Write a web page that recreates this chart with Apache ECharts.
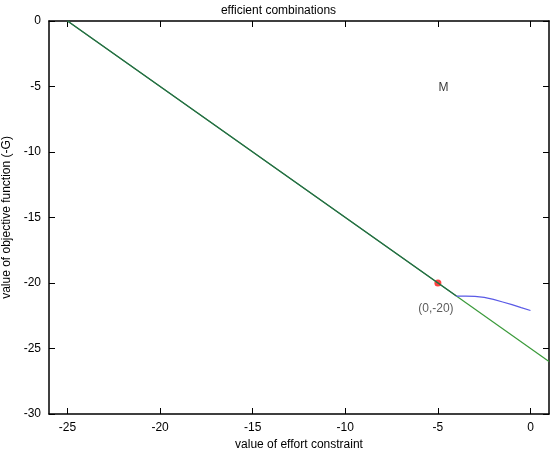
<!DOCTYPE html>
<html>
<head>
<meta charset="utf-8">
<script src="https://cdn.jsdelivr.net/npm/echarts@6/dist/echarts.min.js"></script>
<style>
  html, body { margin: 0; padding: 0; background: #fff; }
  #main { width: 557px; height: 450px; }
</style>
</head>
<body>
<div id="main"></div>
<script>
// ticks
var xTicks = [-25, -20, -15, -10, -5, 0];
var yTicks = [0, -5, -10, -15, -20, -25, -30];

// lines
var fullLine = [[-25, 0], [1, -26]];
var effLine = [[-25, 0], [-4, -21]];
var blueCurve = [[-4, -21], [-3.5, -21], [-3, -21.02], [-2.5, -21.1], [-2, -21.25], [-1.5, -21.45], [-1, -21.65], [-0.5, -21.88], [0, -22.1]];
var redPoint = [[-5, -20]];
var mPoint = [[-4.7, -5.1]];

var chart = echarts.init(document.getElementById("main"));
var font = "Liberation Sans, Arial, sans-serif";
var axisCommon = {
  type: "value",
  axisLine: { show: true, onZero: false, lineStyle: { color: "#000", width: 1.5 } },
  splitLine: { show: false },
  axisTick: { show: true, inside: true, length: 6, lineStyle: { color: "#000" } },
  axisLabel: { color: "#000", fontSize: 12, fontFamily: font }
};

chart.setOption({
  animation: false,
  title: {
    text: "efficient combinations",
    left: "center",
    top: 0,
    textStyle: { fontSize: 12, fontWeight: "normal", color: "#000", fontFamily: font }
  },
  grid: { left: 49, right: 8, top: 21, bottom: 36, containLabel: false, outerBoundsMode: "none" },
  xAxis: [
    echarts.util.merge({
      min: -26, max: 1, position: "bottom",
      name: "value of effort constraint", nameLocation: "middle", nameGap: 21,
      nameTextStyle: { fontSize: 12, color: "#000", fontFamily: font },
      axisTick: { customValues: xTicks },
      axisLabel: { customValues: xTicks }
    }, axisCommon, false),
    echarts.util.merge({
      min: -26, max: 1, position: "top",
      axisTick: { customValues: xTicks },
      axisLabel: { show: false }
    }, axisCommon, false)
  ],
  yAxis: [
    echarts.util.merge({
      min: -30, max: 0, interval: 5, position: "left",
      name: "value of objective function (-G)", nameLocation: "middle", nameGap: 32,
      nameTextStyle: { fontSize: 12, color: "#000", fontFamily: font }
    }, axisCommon, false),
    echarts.util.merge({
      min: -30, max: 0, interval: 5, position: "right",
      axisLabel: { show: false }
    }, axisCommon, false)
  ],
  series: [
    {
      type: "line", data: fullLine, showSymbol: false,
      lineStyle: { color: "#3a9a3a", width: 1.2 }
    },
    {
      type: "line", data: effLine, showSymbol: false,
      lineStyle: { color: "#246a48", width: 1.2 }
    },
    {
      type: "line", data: blueCurve, showSymbol: false,
      lineStyle: { color: "#5a5ae6", width: 1.2 }
    },
    {
      type: "scatter", data: redPoint, symbolSize: 7,
      itemStyle: { color: "#ff1010" },
      label: {
        show: true, formatter: "(0,-20)", position: "bottom", distance: 16,
        offset: [-2, 0],
        color: "#333", fontSize: 12, fontFamily: font
      }
    },
    {
      type: "scatter", data: mPoint, symbolSize: 0,
      label: {
        show: true, formatter: "M", position: "inside",
        color: "#000", fontSize: 12, fontFamily: font
      }
    }
  ]
});
</script>
</body>
</html>
